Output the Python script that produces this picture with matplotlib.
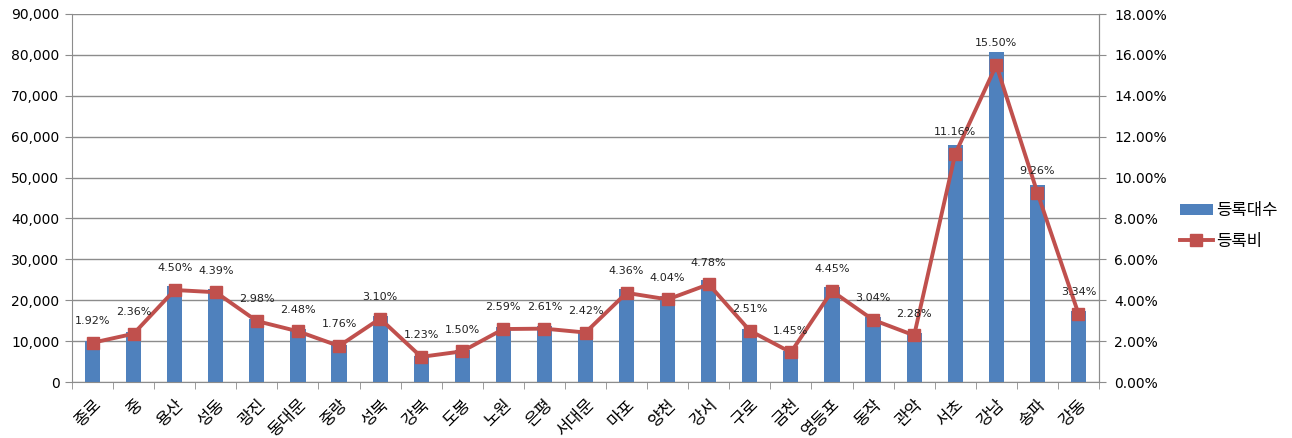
import matplotlib
matplotlib.use("Agg")
import matplotlib.pyplot as plt
from matplotlib.ticker import FuncFormatter, FixedLocator
import numpy as np

plt.rcParams['font.family'] = ['Noto Sans CJK KR', 'DejaVu Sans']

districts = ['종로', '중', '용산', '성동', '광진', '동대문', '중랑', '성북', '강북', '도봉',
             '노원', '은평', '서대문', '마포', '양천', '강서', '구로', '금천', '영등포', '동작',
             '관악', '서초', '강남', '송파', '강동']
counts = [9990, 12280, 23420, 22850, 15510, 12910, 9160, 16130, 6400, 7810,
          13480, 13580, 12590, 22690, 21020, 24870, 13060, 7550, 23160, 15820,
          11870, 58080, 80660, 48190, 17380]
ratios = [1.92, 2.36, 4.50, 4.39, 2.98, 2.48, 1.76, 3.10, 1.23, 1.50,
          2.59, 2.61, 2.42, 4.36, 4.04, 4.78, 2.51, 1.45, 4.45, 3.04,
          2.28, 11.16, 15.50, 9.26, 3.34]

bar_color = '#4F81BD'
line_color = '#C0504D'
grid_color = '#8C8C8C'

fig = plt.figure(figsize=(12.92, 4.38), dpi=100)
ax = fig.add_axes([72/1292, 1-382/438, (1099-72)/1292, (382-14)/438])
x = np.arange(len(districts))

ax.bar(x, counts, width=0.37, color=bar_color, zorder=2, label='등록대수')
ax.set_xlim(-0.5, len(districts)-0.5)
ax.set_ylim(0, 90000)
ax.set_yticks(np.arange(0, 90001, 10000))
ax.yaxis.set_major_formatter(FuncFormatter(lambda v, p: f'{int(v):,}'))
ax.grid(axis='y', color=grid_color, linewidth=1, zorder=0)
ax.set_axisbelow(True)
ax.spines['top'].set_visible(False)
for s in ['left', 'bottom', 'right']:
    ax.spines[s].set_color(grid_color)
ax.tick_params(axis='y', length=5, color=grid_color, labelsize=10, pad=4)
for lab in ax.get_yticklabels():
    lab.set_family('DejaVu Sans')
ax.set_xticks(x)
ax.set_xticklabels(districts, rotation=45, ha='right', rotation_mode='anchor', fontsize=12)
ax.tick_params(axis='x', which='major', length=0, pad=10)
ax.xaxis.set_minor_locator(FixedLocator(np.arange(-0.5, len(districts), 1.0)))
ax.tick_params(axis='x', which='minor', length=5, color=grid_color)

ax2 = ax.twinx()
ax2.plot(x, ratios, color=line_color, linewidth=2.8, marker='s', markersize=9,
         zorder=3, label='등록비')
ax2.set_ylim(0, 18)
ax2.set_yticks(np.arange(0, 18.01, 2))
ax2.yaxis.set_major_formatter(FuncFormatter(lambda v, p: f'{v:.2f}%'))
ax2.tick_params(axis='y', length=5, color=grid_color, labelsize=10, pad=6)
for lab in ax2.get_yticklabels():
    lab.set_family('DejaVu Sans')
for s in ['top', 'left', 'bottom']:
    ax2.spines[s].set_visible(False)
ax2.spines['right'].set_color(grid_color)

for xi, r in zip(x, ratios):
    ax2.annotate(f'{r:.2f}%', (xi, r), xytext=(0, 12), textcoords='offset points',
                 ha='center', va='bottom', fontsize=8, family='DejaVu Sans', color='#222222')

h1, l1 = ax.get_legend_handles_labels()
h2, l2 = ax2.get_legend_handles_labels()
fig.legend(h1 + h2, l1 + l2, loc='center left', bbox_to_anchor=(1168/1292, 1-226/438),
           frameon=False, fontsize=12, handlelength=2.0, handletextpad=0.2, labelspacing=0.8,
           borderpad=0.2)

fig.savefig('out.png', dpi=100)
